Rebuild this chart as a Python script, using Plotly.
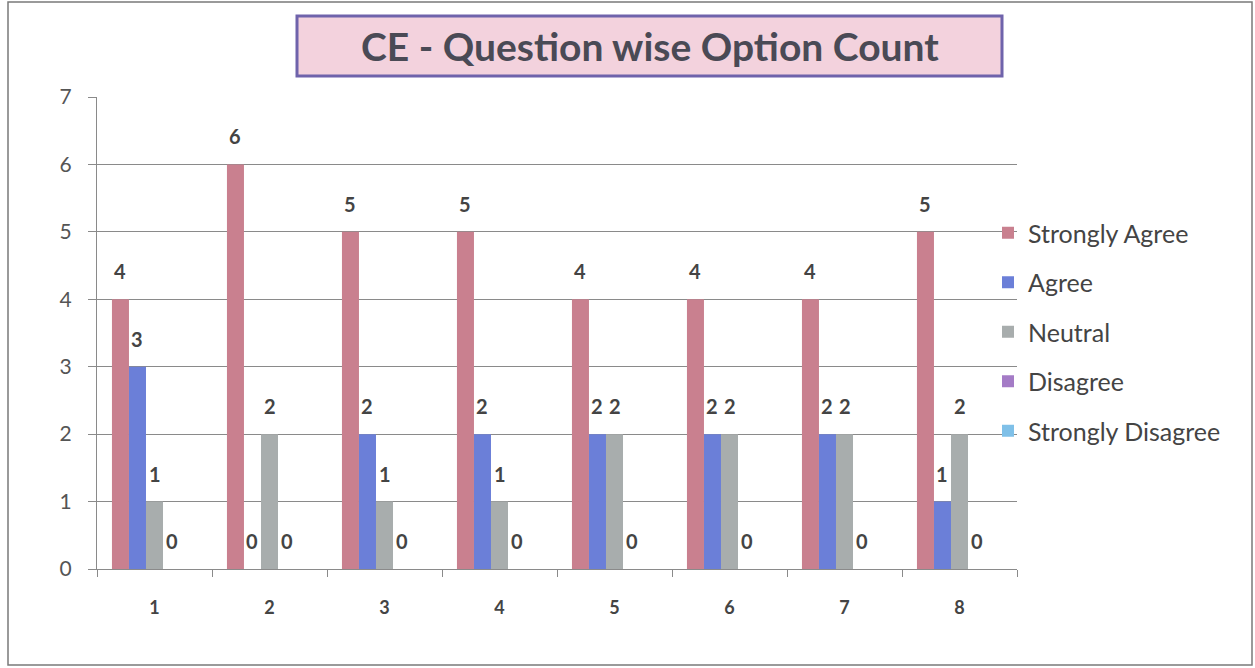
import plotly.graph_objects as go

questions = ["1", "2", "3", "4", "5", "6", "7", "8"]
strongly_agree = [4, 6, 5, 5, 4, 4, 4, 5]
agree = [3, 0, 2, 2, 2, 2, 2, 1]
neutral = [1, 2, 1, 1, 2, 2, 2, 2]
disagree = [0, 0, 0, 0, 0, 0, 0, 0]
strongly_disagree = [None] * 8

series = [
    ("Strongly Agree", strongly_agree, "#c9808f"),
    ("Agree", agree, "#6b7fd8"),
    ("Neutral", neutral, "#a8adad"),
    ("Disagree", disagree, "#a47bc6"),
    ("Strongly Disagree", strongly_disagree, "#7fc0e8"),
]

W, H = 1255, 668
L, R, T, B = 97, 1017, 97, 569
pw, ph = R - L, B - T
BARGAP = 0.26

def px(x):
    return (x - L) / pw

def py(y):
    return (B - y) / ph

fig = go.Figure()
n = len(series)
bw = (1 - BARGAP) / n
for i, (name, vals, col) in enumerate(series):
    fig.add_trace(go.Bar(
        name=name, x=questions, y=vals,
        marker=dict(color=col, line=dict(width=0)),
        legendgroup=name,
    ))
    off = (i - (n - 1) / 2) * bw
    for j, v in enumerate(vals):
        if v is None:
            continue
        fig.add_annotation(x=j + off, y=v, text=str(v), showarrow=False,
                           xref="x", yref="y", yanchor="middle", yshift=28,
                           font=dict(family="Lato", size=20, color="#444444", weight="bold"))

fig.update_layout(
    width=W, height=H,
    margin=dict(l=L, r=W - R, t=T, b=H - B, autoexpand=False),
    paper_bgcolor="white", plot_bgcolor="white",
    barmode="group", bargap=BARGAP, bargroupgap=0,
    font=dict(family="Lato", color="#444444"),
    showlegend=True,
    legend=dict(x=px(988), xanchor="left", y=py(210), yanchor="top",
                font=dict(family="Lato", size=25, color="#444444"),
                tracegroupgap=14, bgcolor="rgba(0,0,0,0)"),
)
fig.update_yaxes(range=[0, 7], dtick=1, showgrid=True, gridcolor="#8a8a8a", gridwidth=1,
                 showline=True, linecolor="#8a8a8a", ticks="outside", ticklen=8,
                 tickcolor="#8a8a8a", ticklabelstandoff=12,
                 tickfont=dict(family="Lato", size=21, color="#555555"),
                 zeroline=False, fixedrange=True)
fig.update_xaxes(showline=True, linecolor="#8a8a8a", ticks="outside", ticklen=7,
                 tickcolor="#8a8a8a", tickson="boundaries", ticklabelstandoff=22,
                 tickfont=dict(family="Lato", size=18, color="#444444", weight="bold"),
                 fixedrange=True)

# Title box
fig.add_shape(type="rect", xref="paper", yref="paper",
              x0=px(297), x1=px(1002), y0=py(76), y1=py(16),
              line=dict(color="#6f63ab", width=3), fillcolor="#f3d2dd", layer="above")
fig.add_annotation(text="<b>CE - Question wise Option Count</b>", xref="paper", yref="paper",
                   x=px(650), y=py(46), showarrow=False, xanchor="center", yanchor="middle",
                   font=dict(family="Lato", size=39, color="#4a4a55"))
# Outer frame
fig.add_shape(type="rect", xref="paper", yref="paper",
              x0=px(8), x1=px(1252), y0=py(665), y1=py(2),
              line=dict(color="#7a7a7a", width=1.5), fillcolor="rgba(0,0,0,0)")

fig.write_html("out.html", config={"displayModeBar": False},
               post_script="document.body.style.margin='0';document.body.style.overflow='hidden';")
